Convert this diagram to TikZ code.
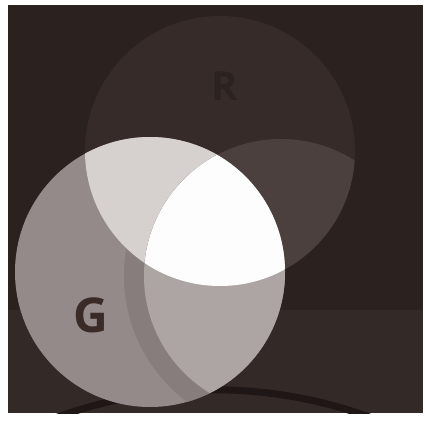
\documentclass[tikz,border=0pt]{standalone}
\usepackage{fontspec}
\newfontfamily\lblfont{Open Sans}[BoldFont={* Bold}]
\definecolor{bgtop}{HTML}{2B211F}
\definecolor{bgbot}{HTML}{332926}
\definecolor{ralone}{HTML}{362B29}
\definecolor{rb}{HTML}{4B403E}
\definecolor{rg}{HTML}{D6D0CF}
\definecolor{galone}{HTML}{938A89}
\definecolor{gband}{HTML}{877D7C}
\definecolor{gb}{HTML}{ACA5A4}
\definecolor{rgb}{HTML}{FDFDFD}
\definecolor{arcdark}{HTML}{1F1715}
\definecolor{rlabel}{HTML}{2C2220}
\definecolor{glabel}{HTML}{3A2B27}
\tikzset{
  lbl/.style={font=\lblfont\bfseries\fontsize{48}{48}\selectfont, inner sep=0pt},
  lblsmall/.style={font=\lblfont\bfseries\fontsize{40}{40}\selectfont, inner sep=0pt},
}
\begin{document}
\begin{tikzpicture}[x=1pt,y=-1pt]
\useasboundingbox (0,0) rectangle (425,428);
\fill[white] (0,0) rectangle (425,428);
% frame
\fill[bgtop] (8,5) rectangle (423,413);
\fill[bgbot] (8,310) rectangle (423,413);
% circle centres
\coordinate (Rc) at (220,151);
\coordinate (Gc) at (150,272);
\coordinate (Bc) at (281,276);
% dark arc at bottom
\begin{scope}
  \clip (8,5) rectangle (423,413);
  \draw[arcdark, line width=7pt] (40,424) .. controls (150,378) and (280,378) .. (392,426);
\end{scope}
% R alone
\fill[ralone] (Rc) circle [radius=135];
% G alone
\fill[galone] (Gc) circle [radius=135];
\begin{scope}
  \clip (Gc) circle [radius=135];
  \fill[gband] (Bc) circle [radius=157];
  % R and G
  \begin{scope}
    \clip (Rc) circle [radius=135];
    \fill[rg] (Gc) circle [radius=135];
  \end{scope}
\end{scope}
% B overlaps
\begin{scope}
  \clip (Bc) circle [radius=137];
  \fill[rb] (Rc) circle [radius=135];
  \fill[gb] (Gc) circle [radius=135];
  \begin{scope}
    \clip (Rc) circle [radius=135];
    \fill[rgb] (Gc) circle [radius=135];
  \end{scope}
\end{scope}
% labels
\node[lblsmall, text=rlabel] (rl) at (225,86) {R};
\node[lbl, text=glabel] (gl) at (91,315) {G};
\end{tikzpicture}
\end{document}
